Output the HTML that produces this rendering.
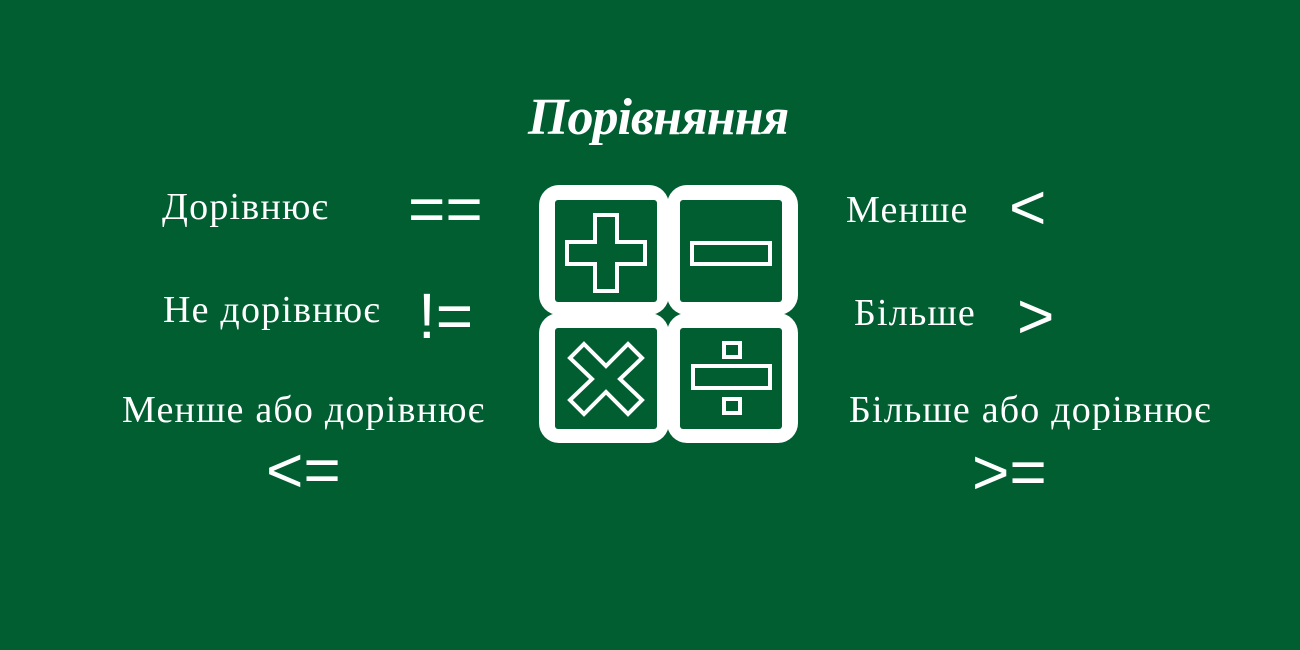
<!DOCTYPE html>
<html><head><meta charset="utf-8"><style>
html,body{margin:0;padding:0}
body{width:1300px;height:650px;background:#005e31;position:relative;overflow:hidden;color:#fff}
.s{position:absolute;font-family:"Liberation Serif",serif;font-size:38px;letter-spacing:1.2px;white-space:nowrap;line-height:1}
.o{position:absolute;font-family:"Liberation Sans",sans-serif;font-size:64px;white-space:nowrap;line-height:1}
.t{position:absolute;left:528px;top:92px;font-family:"Liberation Serif",serif;font-style:italic;font-weight:bold;font-size:52px;line-height:1;letter-spacing:-1px}
</style></head><body>
<div class="t">Порівняння</div>
<div class="s" style="left:162px;top:188px">Дорівнює</div>
<div class="o" style="left:408px;top:177px">==</div>
<div class="s" style="left:163px;top:291px">Не дорівнює</div>
<div class="o" style="left:418px;top:284px">!=</div>
<div class="s" style="left:122px;top:391px">Менше або дорівнює</div>
<div class="o" style="left:266px;top:438px">&lt;=</div>
<div class="s" style="left:846px;top:191px">Менше</div>
<div class="o" style="left:1009px;top:175px">&lt;</div>
<div class="s" style="left:854px;top:294px">Більше</div>
<div class="o" style="left:1017px;top:284px">&gt;</div>
<div class="s" style="left:849px;top:391px">Більше або дорівнює</div>
<div class="o" style="left:972px;top:440px">&gt;=</div>
<svg width="1300" height="650" style="position:absolute;left:0;top:0">
<g fill="#fff">
<rect x="539" y="185" width="130" height="130" rx="20"/>
<rect x="667" y="185" width="131" height="130" rx="20"/>
<rect x="539" y="313" width="130" height="130" rx="20"/>
<rect x="667" y="313" width="131" height="130" rx="20"/>
</g>
<g fill="#005e31">
<rect x="555" y="200" width="102" height="102" rx="3"/>
<rect x="680" y="200" width="102" height="102" rx="3"/>
<rect x="555" y="328" width="102" height="101" rx="3"/>
<rect x="680" y="328" width="102" height="101" rx="3"/>
<path d="M668 306 L673 313 L668 320 L663 313Z"/>
</g>
<g fill="none" stroke="#fff" stroke-width="4">
<path d="M595 215 H617 V242 H645 V264 H617 V291 H595 V264 H567 V242 H595 Z"/>
<rect x="692" y="243" width="78" height="21"/>
<rect x="693" y="366" width="77" height="22"/>
<rect x="724" y="343" width="16" height="14"/>
<rect x="724" y="399" width="16" height="14"/>
<path d="M584 344 L606 366 L628 344 L642 358 L620 379 L642 400 L628 414 L606 392 L584 414 L570 400 L592 379 L570 358 Z"/>
</g>
</svg>
</body></html>
